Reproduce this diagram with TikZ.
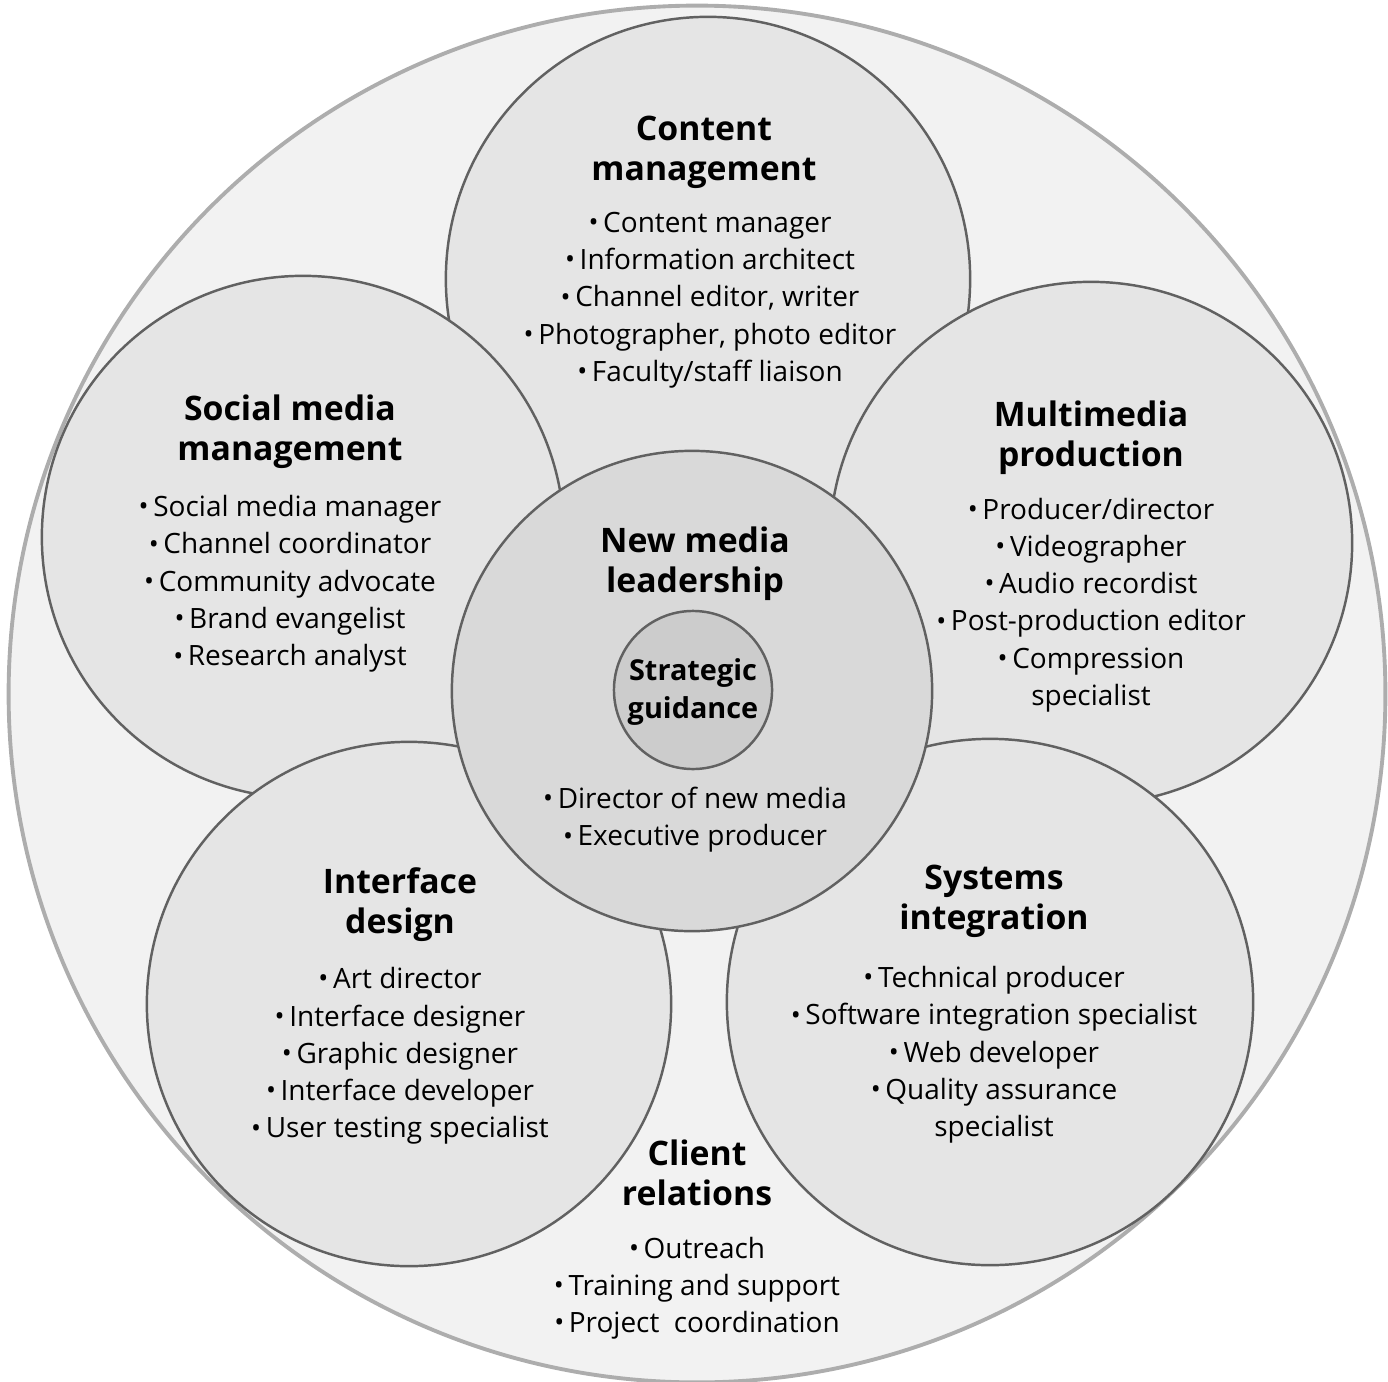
\documentclass[tikz,border=0pt]{standalone}
\usepackage{fontspec}
\setmainfont{Open Sans}
\usepackage{tikz}
\usetikzlibrary{positioning}

\newcommand{\bul}{\raisebox{0.05ex}{\scalebox{0.95}{•}}\,}

\begin{document}
\begin{tikzpicture}[
    x=0.01cm, y=-0.01cm,
    petal/.style={circle, draw=black!62, line width=0.7pt, fill=black!10, inner sep=0pt},
    hub/.style={petal, fill=black!15},
    core/.style={petal, fill=black!20},
    head/.style={align=center, font=\bfseries\fontsize{9.6pt}{11.4pt}\selectfont},
    items/.style={align=center, font=\fontsize{7.95pt}{10.6pt}\selectfont}
]

\useasboundingbox (0,0) rectangle (1388,1382);

\node[circle, draw=black!32, line width=1.1pt, fill=black!5, minimum size=13.76cm] (outer) at (697,694) {};

\node[petal, minimum size=5.24cm] (content) at (708,279) {};
\node[petal, minimum size=5.22cm] (social) at (303,537) {};
\node[petal, minimum size=5.22cm] (multi) at (1091,543) {};
\node[petal, minimum size=5.24cm] (iface) at (409,1004) {};
\node[petal, minimum size=5.26cm] (systems) at (990,1002) {};
\node[hub, minimum size=4.80cm] (lead) at (692,691) {};
\node[core, minimum size=1.58cm] (strategy) at (693,690) {};

\node[head] (contentTitle) at (704,152) {Content\\management};
\node[items] (contentList) at (710,300) {\bul Content manager\\\bul Information architect\\\bul Channel editor, writer\\\bul Photographer, photo editor\\\bul Faculty/staff liaison};

\node[head] (socialTitle) at (290,432) {Social media\\management};
\node[items] (socialList) at (290,584) {\bul Social media manager\\\bul Channel coordinator\\\bul Community advocate\\\bul Brand evangelist\\\bul Research analyst};

\node[head] (multiTitle) at (1091,438) {Multimedia\\production};
\node[items] (multiList) at (1091,605) {\bul Producer/director\\\bul Videographer\\\bul Audio recordist\\\bul Post-production editor\\\bul Compression\\specialist};

\node[head] (leadTitle) at (695,564) {New media\\leadership};
\node[head, font=\bfseries\fontsize{8.2pt}{10.6pt}\selectfont] (strategyTitle) at (693,692) {Strategic\\guidance};
\node[items] (leadList) at (695,820) {\bul Director of new media\\\bul Executive producer};

\node[head] (ifaceTitle) at (400,905) {Interface\\design};
\node[items] (ifaceList) at (400,1056) {\bul Art director\\\bul Interface designer\\\bul Graphic designer\\\bul Interface developer\\\bul User testing specialist};

\node[head] (systemsTitle) at (994,901) {Systems\\integration};
\node[items] (systemsList) at (994,1055) {\bul Technical producer\\\bul Software integration specialist\\\bul Web developer\\\bul Quality assurance\\specialist};

\node[head] (clientTitle) at (697,1173) {Client\\relations};
\node[items] (clientList) at (697,1288) {\bul Outreach\\\bul Training and support\\\bul Project~ coordination};

\end{tikzpicture}
\end{document}
